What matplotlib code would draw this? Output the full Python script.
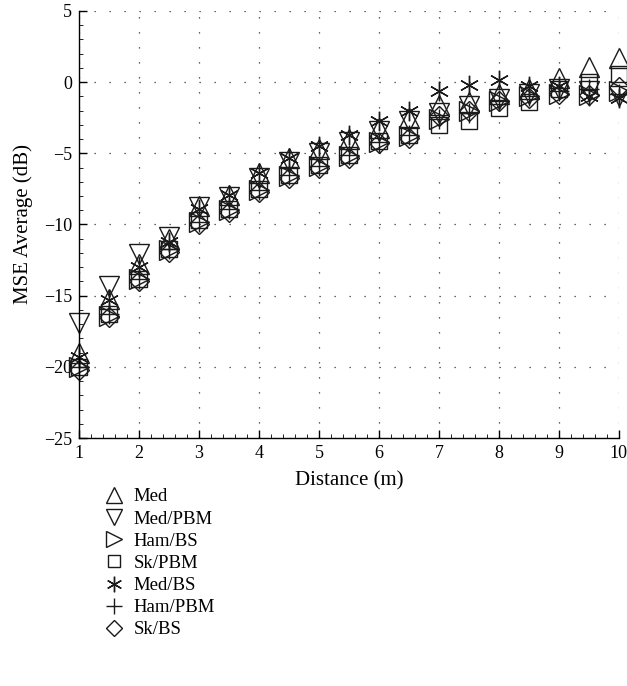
import matplotlib

matplotlib.use("Agg")
import matplotlib.pyplot as plt
from matplotlib.ticker import MultipleLocator

plt.rcParams["font.family"] = ["Liberation Serif", "DejaVu Serif"]

DISTANCE = [1, 1.5, 2, 2.5, 3, 3.5, 4, 4.5, 5, 5.5, 6, 6.5, 7, 7.5, 8, 8.5, 9, 9.5, 10]

MED = [-19.0, -15.2, -12.8, -11.0, -8.7, -7.9, -6.4, -5.3, -4.7, -4.0, -3.2, -2.5, -1.6, -1.4, -0.8, -0.5, 0.3, 1.05, 1.7]
MED_PBM = [-16.9, -14.3, -12.1, -10.9, -8.8, -8.1, -6.7, -5.6, -5.0, -4.2, -3.4, -2.7, -2.2, -1.7, -1.2, -0.8, -0.5, -0.6, -1.0]
HAM_BS = [-20.0, -16.4, -13.8, -11.8, -9.8, -9.0, -7.6, -6.6, -5.9, -5.2, -4.2, -3.8, -2.6, -2.0, -1.3, -1.0, -0.8, -0.9, -0.6]
SK_PBM = [-20.0, -16.3, -13.8, -11.7, -9.7, -8.9, -7.5, -6.5, -5.8, -5.1, -4.1, -3.7, -3.0, -2.7, -1.8, -1.4, -0.5, 0.0, 0.6]
MED_BS = [-19.3, -15.3, -13.0, -11.2, -8.9, -7.9, -6.4, -5.3, -4.5, -3.7, -2.7, -2.0, -0.6, -0.2, 0.15, -0.3, -0.3, -1.0, -1.1]
HAM_PBM = [-20.0, -16.3, -13.8, -11.7, -9.8, -8.9, -7.6, -6.5, -5.9, -5.1, -4.2, -3.7, -2.6, -2.2, -1.3, -1.0, -0.6, -0.5, -0.8]
SK_BS = [-20.2, -16.5, -14.0, -11.9, -10.0, -9.1, -7.7, -6.7, -6.0, -5.3, -4.3, -3.9, -2.4, -2.0, -1.3, -1.1, -0.8, -0.9, -0.35]

SERIES = [
    ("Med", MED, "^"),
    ("Med/PBM", MED_PBM, "v"),
    ("Ham/BS", HAM_BS, ">"),
    ("Sk/PBM", SK_PBM, "s"),
    ("Med/BS", MED_BS, (6, 2, 0)),
    ("Ham/PBM", HAM_PBM, "+"),
    ("Sk/BS", SK_BS, "D"),
]

MARKER_SIZES = {"^": 14, "v": 14, ">": 14, "s": 11, "+": 14, "D": 10}


def main():
    fig = plt.figure(figsize=(6.27, 6.86), dpi=100)
    ax = fig.add_axes([0.126, 0.3615, 0.861, 0.6225])

    for label, values, marker in SERIES:
        size = MARKER_SIZES.get(marker, 14) if isinstance(marker, str) else 14
        ax.plot(
            DISTANCE,
            values,
            linestyle="none",
            marker=marker,
            markersize=size,
            markerfacecolor="none",
            markeredgecolor="#1a1a1a",
            markeredgewidth=1.0,
            color="#1a1a1a",
            label=label,
            clip_on=False,
        )

    ax.set_xlim(1, 10)
    ax.set_ylim(-25, 5)
    ax.xaxis.set_major_locator(MultipleLocator(1))
    ax.xaxis.set_minor_locator(MultipleLocator(0.2))
    ax.yaxis.set_minor_locator(MultipleLocator(1))
    ax.set_yticks([5, 0, -5, -10, -15, -20, -25])
    ax.set_yticklabels(["5", "0", "\u22125", "\u221210", "\u221215", "\u221220", "\u221225"])

    ax.tick_params(which="major", direction="in", length=6, width=1.0, labelsize=13, pad=5)
    ax.tick_params(which="minor", direction="in", length=3, width=0.6)
    ax.spines["top"].set_visible(False)
    ax.spines["right"].set_visible(False)
    ax.spines["left"].set_linewidth(1.0)
    ax.spines["bottom"].set_linewidth(1.0)

    ax.grid(True, which="major", color="#333333", linestyle=(0, (1, 11)), linewidth=0.9)
    ax.set_axisbelow(True)

    ax.set_xlabel("Distance (m)", fontsize=15, labelpad=7)
    ax.set_ylabel("MSE Average (dB)", fontsize=15, labelpad=8)

    fig.legend(
        loc="upper left",
        bbox_to_anchor=(0.152, 0.302),
        frameon=False,
        fontsize=13.5,
        handlelength=1.0,
        handletextpad=0.55,
        labelspacing=0.27,
        borderpad=0.0,
        markerscale=0.8,
    )

    fig.savefig("out.png", dpi=100)
    plt.close(fig)


if __name__ == "__main__":
    main()
